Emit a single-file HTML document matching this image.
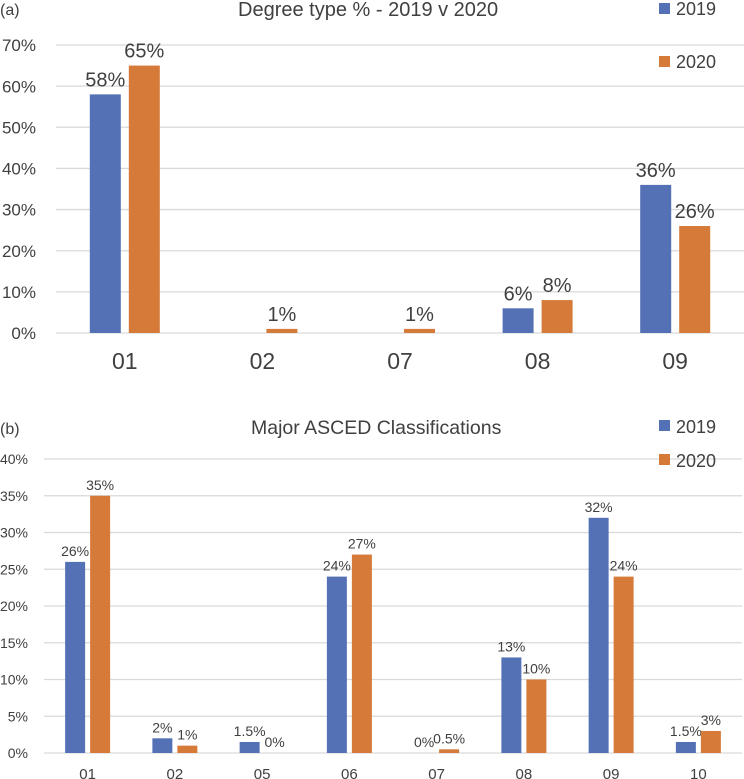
<!DOCTYPE html>
<html><head><meta charset="utf-8"><style>
html,body{margin:0;padding:0;background:#fff;}
svg{display:block;font-family:"Liberation Sans",sans-serif;}
</style></head><body>
<svg id="c" width="744" height="779" viewBox="0 0 744 779" xmlns="http://www.w3.org/2000/svg"></svg>
<script>
const catsA = ["01","02","07","08","09"];
const a2019 = [58,null,null,6,36];
const a2020 = [65,1,1,8,26];
const ticksA = [0,10,20,30,40,50,60,70];
const lblA2019 = ["58%","","","6%","36%"];
const lblA2020 = ["65%","1%","1%","8%","26%"];

const catsB = ["01","02","05","06","07","08","09","10"];
const b2019 = [26,2,1.5,24,0,13,32,1.5];
const b2020 = [35,1,0,27,0.5,10,24,3];
const ticksB = [0,5,10,15,20,25,30,35,40];
const lblB2019 = ["26%","2%","1.5%","24%","0%","13%","32%","1.5%"];
const lblB2020 = ["35%","1%","0%","27%","0.5%","10%","24%","3%"];

const NS="http://www.w3.org/2000/svg";
const svg=document.getElementById('c');
const BLUE="#5571b6", ORANGE="#d57a39", TXT="#404040", GRID="#d9d9d9";
function mk(tag,attrs,parent){const e=document.createElementNS(NS,tag);for(const k in attrs)e.setAttribute(k,attrs[k]);(parent||svg).appendChild(e);return e;}
function txt(s,x,y,size,anchor,parent){const t=mk('text',{x:x,y:y,'font-size':size,fill:TXT,'text-anchor':anchor||'start'},parent);t.textContent=s;return t;}

function chart(o){
  const g=mk('g',{});
  
  
  const y=v=>o.y0-(v/o.max)*(o.y0-o.yTop);
  const bw=(o.x1-o.x0)/o.cats.length;
  const x=i=>o.x0+bw*(i+0.5);
  o.ticks.forEach(t=>{
    const l=mk('line',{x1:o.x0,x2:o.x1,y1:y(t),y2:y(t),stroke:GRID,'stroke-width':1.3},g);
    
    
    const tl=txt(t+'%',o.tickX,y(t)+o.tickSize*0.36,o.tickSize,'end',g);
    
    
  });
  o.cats.forEach((c,i)=>{
    const cl=txt(c,x(i),o.catY,o.catSize,'middle',g);
    
    
    [[o.s1,BLUE,o.l1,-1,'2019'],[o.s2,ORANGE,o.l2,1,'2020']].forEach(([s,col,lb,side,yr])=>{
      const v=s[i]; if(v===null||v===undefined) return;
      const cx=x(i)+side*(o.barW/2+o.gap/2);
      if(v>0){
        const r=mk('rect',{x:cx-o.barW/2,y:y(v),width:o.barW,height:y(0)-y(v),fill:col},g);
        
        
      }
      if(lb[i]){
        const dl=txt(lb[i],cx,y(v)-o.lblOff,o.lblSize,'middle',g);
        
        
      }
    });
  });
}
chart({name:'chart-a',cats:catsA,s1:a2019,s2:a2020,l1:lblA2019,l2:lblA2020,ticks:ticksA,max:70,
  x0:56,x1:744,y0:333,yTop:45,barW:31,gap:8,tickX:36,tickSize:17,catY:369,catSize:23,lblSize:20,lblOff:8});
chart({name:'chart-b',cats:catsB,s1:b2019,s2:b2020,l1:lblB2019,l2:lblB2020,ticks:ticksB,max:40,
  x0:44,x1:742,y0:753,yTop:459,barW:20,gap:5,tickX:28,tickSize:14,catY:779,catSize:15,lblSize:14,lblOff:6});

[["(a)",0,15,16,"panel-label-a"],["Degree type % - 2019 v 2020",238,16,20,"chart-a-title"],
 ["(b)",0,434,16,"panel-label-b"],["Major ASCED Classifications",251,434,19.5,"chart-b-title"]].forEach(([s,x,y,f,n])=>{
  const t=txt(s,x,y,f,'start');
  
  
});
[[3,BLUE,'2019',15,'a'],[56,ORANGE,'2020',68,'a'],[420,BLUE,'2019',433,'b'],[454,ORANGE,'2020',467,'b']].forEach(([sy,col,s,ty,p])=>{
  const r=mk('rect',{x:659,y:sy,width:11,height:11,fill:col});
  
  
  const t=txt(s,676,ty,18,'start');
  
  
});
</script>
</body></html>
